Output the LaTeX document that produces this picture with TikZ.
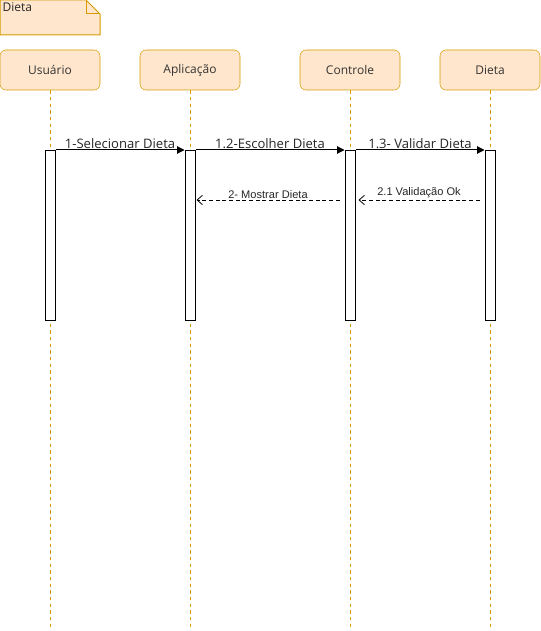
\documentclass[tikz,border=0pt]{standalone}
\usepackage{fontspec}
\setmainfont{Open Sans}
\newfontfamily\smallfont{Liberation Sans}
\usetikzlibrary{arrows.meta}

\definecolor{actfill}{HTML}{FFE6CC}
\definecolor{actline}{HTML}{D79B00}

\tikzset{
  actor/.style={draw=actline,fill=actfill,rounded corners=4.5pt,minimum width=75pt,minimum height=30pt,
    inner sep=0pt,font=\fontsize{9}{11}\selectfont,text=black!80},
  lifeline/.style={draw=actline,dash pattern=on 2.5pt off 2.5pt,line width=0.6pt},
  activation/.style={draw=black,fill=white,line width=0.75pt,minimum width=7.5pt,minimum height=127.5pt,
    inner sep=0pt,anchor=north},
  msg/.style={line width=0.75pt,-{Triangle[length=5.5pt,width=5.5pt]}},
  reply/.style={line width=0.6pt,dash pattern=on 3pt off 2pt,-{Straight Barb[length=4pt,width=7pt]}},
  msglabel/.style={font=\fontsize{9.8}{11}\selectfont,text=black!85,anchor=south,inner sep=0.5pt},
  replylabel/.style={font=\smallfont\fontsize{8.3}{9}\selectfont,text=black!85,anchor=south,inner sep=1pt}
}

\begin{document}
\begin{tikzpicture}[x=0.75pt,y=-0.75pt]
    \useasboundingbox (0,0) rectangle (541,631);

    % Frame note
    \filldraw[fill=actfill,draw=actline,line width=0.75pt] (0,0) -- (86,0) -- (100,14) -- (100,35) -- (0,35) -- cycle;
    \draw[actline,line width=0.75pt] (86,0) -- (86,14) -- (100,14);
    \node[anchor=north west,inner sep=1pt,font=\fontsize{9}{11}\selectfont,text=black!85] (frame) at (1,1) {Dieta};

    % Participants
    \node[actor] (usr) at (50,70) {Usuário};
    \node[actor] (app) at (190,70) {Aplicação};
    \node[actor] (ctl) at (350,70) {Controle};
    \node[actor] (diet) at (490,70) {Dieta};

    % Lifelines
    \foreach \p in {usr,app,ctl,diet}
        \draw[lifeline] (\p.south) -- (\p.south |- 0,628);

    % Activations
    \node[activation] (actU) at (50,150) {};
    \node[activation] (actA) at (190,150) {};
    \node[activation] (actC) at (350,150) {};
    \node[activation] (actD) at (490,150) {};

    % Calls
    \draw[msg] (actU.north east) -- node[msglabel] {1-Selecionar Dieta} (actA.north west);
    \draw[msg] (actA.north east) -- node[msglabel] {1.2-Escolher Dieta} (actC.north west);
    \draw[msg] (actC.north east) -- node[msglabel] {1.3- Validar Dieta} (actD.north west);

    % Replies
    \draw[reply] ([xshift=-3.75pt]actD.west |- 0,200) -- node[replylabel] {2.1 Validação Ok} ([xshift=2.25pt]actC.east |- 0,200);
    \draw[reply] ([xshift=-3.75pt]actC.west |- 0,200) -- node[replylabel] {2- Mostrar Dieta} ([xshift=0.75pt]actA.east |- 0,200);
\end{tikzpicture}
\end{document}
